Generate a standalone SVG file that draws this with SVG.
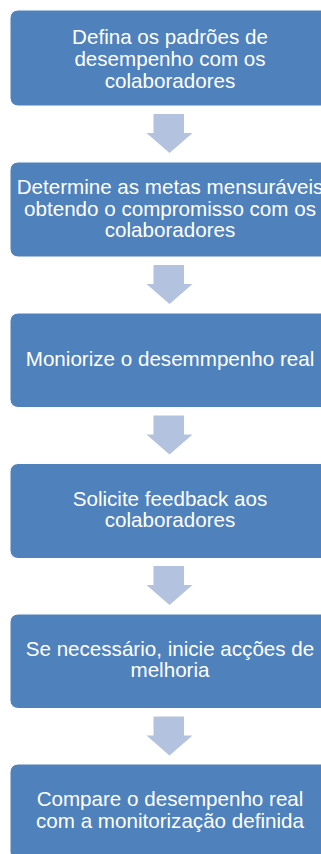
<svg xmlns="http://www.w3.org/2000/svg" width="321" height="854" viewBox="0 0 321 854">
<style>
.box{fill:#4F81BD;stroke:#FFFFFF;stroke-width:1}
.t{font-family:"Liberation Sans",Arial,sans-serif;font-size:20.6px;fill:#FFFFFF;text-anchor:middle}
.arr{fill:#B3C2DE}
</style>
<defs>
<path id="a" d="M153.5 0 H184 V19 H192.5 L169.5 39 L146.5 19 H153.5 Z"/>
</defs>
<g id="connectors">
<use href="#a" class="arr" y="114"/>
<use href="#a" class="arr" y="265"/>
<use href="#a" class="arr" y="415.5"/>
<use href="#a" class="arr" y="566"/>
<use href="#a" class="arr" y="716.5"/>
</g>
<g id="n1"><rect class="box" x="10" y="10" width="322" height="96" rx="8"/>
<text class="t" x="170" y="44.3">Defina os padrões de</text>
<text class="t" x="170" y="65.9">desempenho com os</text>
<text class="t" x="170" y="87.5">colaboradores</text></g>
<g id="n2"><rect class="box" x="10" y="162" width="322" height="95" rx="8"/>
<text class="t" x="170" y="193.9">Determine as metas mensuráveis</text>
<text class="t" x="170" y="215.5">obtendo o compromisso com os</text>
<text class="t" x="170" y="237.1">colaboradores</text></g>
<g id="n3"><rect class="box" x="10" y="313" width="322" height="94.5" rx="8"/>
<text class="t" x="170" y="366">Moniorize o desemmpenho real</text></g>
<g id="n4"><rect class="box" x="10" y="463.5" width="322" height="95" rx="8"/>
<text class="t" x="170" y="505.5">Solicite feedback aos</text>
<text class="t" x="170" y="527">colaboradores</text></g>
<g id="n5"><rect class="box" x="10" y="614" width="322" height="94.5" rx="8"/>
<text class="t" x="170" y="655.8">Se necessário, inicie acções de</text>
<text class="t" x="170" y="677.4">melhoria</text></g>
<g id="n6"><rect class="box" x="10" y="764" width="322" height="96" rx="8"/>
<text class="t" x="170" y="806">Compare o desempenho real</text>
<text class="t" x="170" y="827.6">com a monitorização definida</text></g>
</svg>
